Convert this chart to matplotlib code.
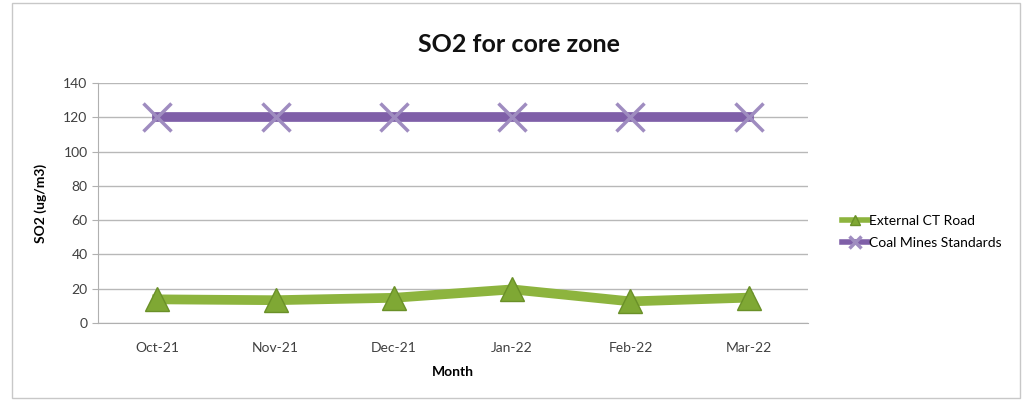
import matplotlib.pyplot as plt
from matplotlib.patches import Rectangle

months = ['Oct-21', 'Nov-21', 'Dec-21', 'Jan-22', 'Feb-22', 'Mar-22']
external_ct_road = [13.8, 13.3, 14.7, 19.6, 12.6, 14.8]
coal_mines_std = [120, 120, 120, 120, 120, 120]

plt.rcParams['font.family'] = ['Lato', 'DejaVu Sans']

fig = plt.figure(figsize=(10.33, 4.01), dpi=100)
fig.patches.append(Rectangle((12 / 1033, 3 / 401), 1008 / 1033, 395 / 401,
                             transform=fig.transFigure, fill=False,
                             edgecolor='#c8c8c8', linewidth=1))

ax = fig.add_axes([98 / 1033, 1 - 323 / 401, 710 / 1033, 240 / 401])
x = range(len(months))

ax.plot(x, external_ct_road, color='#8db43e', linewidth=7, marker='^',
        markersize=17, markerfacecolor='#7fa834', markeredgecolor='#6a9028',
        label='External CT Road', zorder=3)
ax.plot(x, coal_mines_std, color='#7f5fa8', linewidth=7, marker='x',
        markersize=20, markeredgewidth=2.5, markeredgecolor='#9f8cc0',
        label='Coal Mines Standards', zorder=3)

ax.set_xlim(-0.5, len(months) - 0.5)
ax.set_ylim(0, 140)
ax.set_yticks(range(0, 141, 20))
ax.set_xticks(list(x))
ax.set_xticklabels(months)
ax.grid(axis='y', color='#b8b8b8', linewidth=1)
ax.set_axisbelow(True)
for s in ['top', 'right']:
    ax.spines[s].set_visible(False)
for s in ['left', 'bottom']:
    ax.spines[s].set_color('#b0b0b0')
ax.tick_params(axis='both', colors='#b0b0b0', labelcolor='#404040', labelsize=10, length=4)
ax.tick_params(axis='x', length=0, pad=14)

ax.set_xlabel('Month', fontsize=10, fontweight='bold', labelpad=8)
ax.set_ylabel('SO2 (ug/m3)', fontsize=10, fontweight='bold', labelpad=12)
fig.text(519 / 1033, 1 - 45 / 401, 'SO2 for core zone', ha='center', va='center',
         fontsize=18, fontweight='bold', color='#111111')

leg = ax.legend(loc='center left', bbox_to_anchor=(1.03, 0.38), frameon=False,
                fontsize=10, handlelength=1.9, handletextpad=0.05, labelspacing=0.7,
                markerscale=0.45)
for ln in leg.get_lines():
    ln.set_linewidth(4)

fig.savefig('out.png', dpi=100)
